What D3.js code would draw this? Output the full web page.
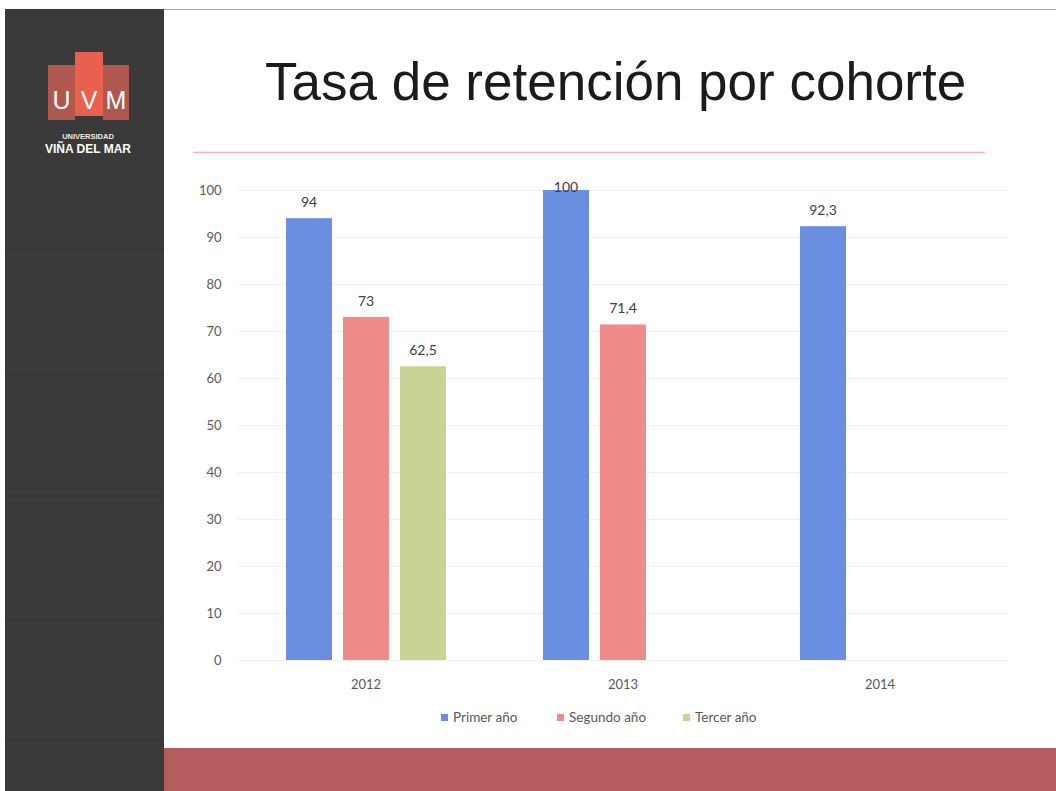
<!DOCTYPE html>
<html>
<head>
<meta charset="utf-8">
<script src="https://cdn.jsdelivr.net/npm/d3@7"></script>
<style>
  html, body { margin: 0; padding: 0; background: #ffffff; }
  svg { display: block; }
</style>
</head>
<body>
<svg id="chart" width="1056" height="791"></svg>
<script>
// ---- Data ----
const title = "Tasa de retención por cohorte";
const categories = ["2012", "2013", "2014"];
const seriesNames = ["Primer año", "Segundo año", "Tercer año"];
const primerAno = [94, 100, 92.3];
const segundoAno = [73, 71.4, null];
const tercerAno = [62.5, null, null];
const yTicks = [0, 10, 20, 30, 40, 50, 60, 70, 80, 90, 100];
const seriesColors = ["#6a8ee0", "#f08b8b", "#c8d493"];

const seriesValues = [primerAno, segundoAno, tercerAno];

const svg = d3.select("#chart");
const W = 1056, H = 791;

// ---- Slide background ----
svg.append("rect").attr("x", 0).attr("y", 0).attr("width", W).attr("height", H).attr("fill", "#ffffff");
// top hairline
svg.append("line").attr("x1", 163).attr("x2", W).attr("y1", 9.5).attr("y2", 9.5)
  .attr("stroke", "#a8a8a8").attr("stroke-width", 1);
// left dark strip
svg.append("rect").attr("x", 5).attr("y", 9).attr("width", 159).attr("height", H - 9).attr("fill", "#3a3a3a");
// subtle horizontal seams in the dark strip
[250, 374, 496, 620, 740].forEach(yy => {
  svg.append("line").attr("x1", 5).attr("x2", 164).attr("y1", yy).attr("y2", yy)
    .attr("stroke", "#333333").attr("stroke-width", 1);
});
// bottom red band
svg.append("rect").attr("x", 164).attr("y", 748).attr("width", W - 164).attr("height", H - 748).attr("fill", "#b55c5e");

// ---- Logo ----
const logo = svg.append("g");
logo.append("rect").attr("x", 48).attr("y", 65).attr("width", 27).attr("height", 55).attr("fill", "#b0584f");
logo.append("rect").attr("x", 103).attr("y", 65).attr("width", 26).attr("height", 55).attr("fill", "#b0584f");
logo.append("rect").attr("x", 75).attr("y", 52).attr("width", 28).attr("height", 64).attr("fill", "#e8614f");
[["U", 61.5], ["V", 89], ["M", 116]].forEach(([t, x]) => {
  logo.append("text").attr("x", x).attr("y", 109).attr("text-anchor", "middle")
    .attr("font-family", "Liberation Sans, Arial, sans-serif").attr("font-size", 25)
    .attr("fill", "#ffffff").text(t);
});
logo.append("text").attr("x", 88).attr("y", 139).attr("text-anchor", "middle")
  .attr("font-family", "Liberation Sans, Arial, sans-serif").attr("font-size", 7.5).attr("font-weight", "bold")
  .attr("fill", "#f0e8e8").text("UNIVERSIDAD");
logo.append("text").attr("x", 88).attr("y", 153).attr("text-anchor", "middle")
  .attr("font-family", "Liberation Sans, Arial, sans-serif").attr("font-size", 12).attr("font-weight", "bold")
  .attr("fill", "#ffffff").text("VIÑA DEL MAR");

// ---- Title ----
svg.append("text").attr("x", 265).attr("y", 100)
  .attr("font-family", "Liberation Sans, Arial, sans-serif").attr("font-size", 53)
  .attr("fill", "#1b1b1b").text(title);
svg.append("line").attr("x1", 193).attr("x2", 985).attr("y1", 152.5).attr("y2", 152.5)
  .attr("stroke", "#f3b3b8").attr("stroke-width", 1.5);

// ---- Chart ----
const plot = { left: 237.5, right: 1008.5, top: 190, bottom: 660 };

const y = d3.scaleLinear().domain([0, 100]).range([plot.bottom, plot.top]);
const x0 = d3.scaleBand().domain(categories).range([plot.left, plot.right]).paddingInner(0).paddingOuter(0);
const x1 = d3.scaleBand().domain(seriesNames).range([0, x0.bandwidth()]).paddingInner(0.193).paddingOuter(0.851);

const font = "Lato, 'Open Sans', sans-serif";

// gridlines
svg.append("g").selectAll("line").data(yTicks).join("line")
  .attr("x1", plot.left).attr("x2", plot.right)
  .attr("y1", d => Math.round(y(d)) + 0.5).attr("y2", d => Math.round(y(d)) + 0.5)
  .attr("stroke", "#f0f0f0").attr("stroke-width", 1);

// y axis
const yAxis = svg.append("g").attr("transform", `translate(${plot.left - 16},0)`)
  .call(d3.axisLeft(y).tickValues(yTicks).tickSize(0).tickPadding(0));
yAxis.select(".domain").remove();
yAxis.selectAll("text").attr("font-family", font).attr("font-size", 13).attr("fill", "#595959");

// x axis
const xAxis = svg.append("g").attr("transform", `translate(0,${plot.bottom})`)
  .call(d3.axisBottom(x0).tickSize(0).tickPadding(20));
xAxis.select(".domain").remove();
xAxis.selectAll("text").attr("font-family", font).attr("font-size", 13).attr("fill", "#595959");

// bars
const barData = [];
categories.forEach((c, ci) => {
  seriesNames.forEach((s, si) => {
    const v = seriesValues[si][ci];
    if (v !== null && v !== undefined) barData.push({ c, s, si, v });
  });
});

svg.append("g").selectAll("rect").data(barData).join("rect")
  .attr("x", d => x0(d.c) + x1(d.s))
  .attr("y", d => y(d.v))
  .attr("width", x1.bandwidth())
  .attr("height", d => y(0) - y(d.v))
  .attr("fill", d => seriesColors[d.si]);

// value labels
const fmt = v => String(v).replace(".", ",");
svg.append("g").selectAll("text").data(barData).join("text")
  .attr("x", d => x0(d.c) + x1(d.s) + x1.bandwidth() / 2)
  .attr("y", d => Math.max(y(d.v) - 11, plot.top + 2))
  .attr("text-anchor", "middle")
  .attr("font-family", font).attr("font-size", 14).attr("fill", "#404040")
  .text(d => fmt(d.v));

// legend
const legendX = [441, 557, 683];
const legend = svg.append("g");
seriesNames.forEach((s, i) => {
  legend.append("rect").attr("x", legendX[i]).attr("y", 714).attr("width", 7).attr("height", 7)
    .attr("fill", seriesColors[i]);
  legend.append("text").attr("x", legendX[i] + 12).attr("y", 722)
    .attr("font-family", font).attr("font-size", 13.5).attr("fill", "#595959").text(s);
});
</script>
</body>
</html>
